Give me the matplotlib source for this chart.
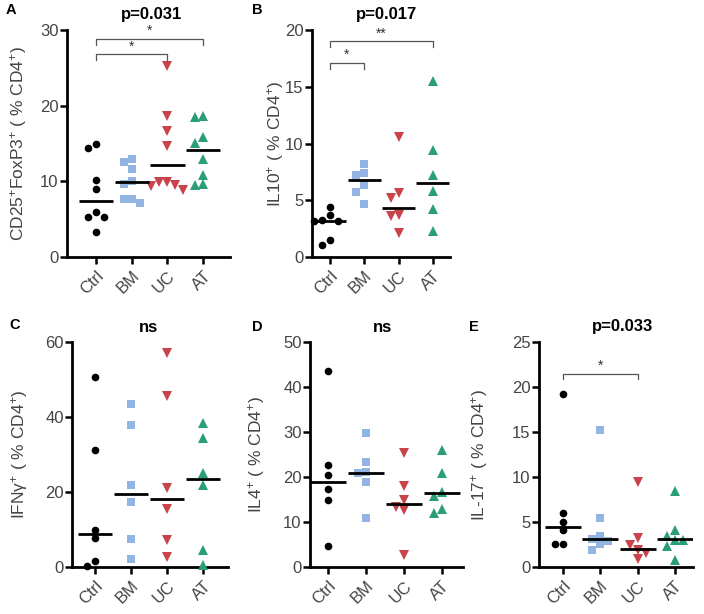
import matplotlib
matplotlib.use('Agg')
import matplotlib.pyplot as plt

plt.rcParams['font.family'] = ['Liberation Sans', 'DejaVu Sans']
plt.rcParams['mathtext.fontset'] = 'custom'
plt.rcParams['mathtext.rm'] = 'Liberation Sans'
plt.rcParams['mathtext.it'] = 'Liberation Sans:italic'

groups = ['Ctrl', 'BM', 'UC', 'AT']

# A: CD25+FoxP3+
a_ctrl = [14.9, 14.4, 10.2, 9.0, 5.9, 5.3, 5.3, 3.3]
a_bm = [13.0, 12.5, 11.6, 10.1, 9.6, 7.6, 7.6, 7.2]
a_uc = [25.3, 18.7, 16.6, 14.7, 9.9, 9.9, 9.5, 9.4, 8.9]
a_at = [18.7, 18.5, 15.9, 15.1, 13.0, 10.9, 9.7, 9.5]
a_med = [7.4, 9.9, 12.2, 14.1]

# B: IL10+
b_ctrl = [4.4, 3.7, 3.3, 3.2, 3.2, 1.5, 1.1]
b_bm = [8.2, 7.4, 7.2, 6.3, 5.7, 4.7]
b_uc = [10.6, 5.6, 5.2, 3.7, 3.6, 2.1]
b_at = [15.5, 9.4, 7.2, 5.8, 4.2, 2.3]
b_med = [3.2, 6.8, 4.3, 6.5]

# C: IFNg+
c_ctrl = [50.7, 31.3, 10.0, 7.8, 1.6, 0.4]
c_bm = [43.5, 37.9, 21.9, 17.4, 7.4, 2.1]
c_uc = [57.0, 45.5, 21.2, 15.4, 7.2, 2.6]
c_at = [38.3, 34.5, 25.0, 21.9, 4.5, 0.5]
c_med = [8.9, 19.6, 18.2, 23.6]

# D: IL4+
d_ctrl = [43.5, 22.7, 20.4, 17.3, 14.9, 4.7]
d_bm = [29.7, 23.4, 21.2, 20.8, 19.0, 10.8]
d_uc = [25.4, 18.0, 14.9, 13.4, 12.7, 2.7]
d_at = [26.0, 20.8, 16.7, 15.8, 13.0, 12.1]
d_med = [19.0, 21.0, 14.0, 16.4]

# E: IL-17+
e_ctrl = [19.2, 6.0, 5.0, 4.1, 2.6, 2.6]
e_bm = [15.2, 5.4, 3.5, 3.1, 2.9, 2.6, 1.9]
e_uc = [9.5, 3.2, 2.4, 1.9, 1.6, 0.9]
e_at = [8.4, 4.1, 3.5, 3.0, 3.0, 2.3, 0.8]
e_med = [4.5, 3.1, 2.0, 3.1]

colors = ['black', '#92b4e3', '#c9444a', '#2a9e78']
markers = ['o', 's', 'v', '^']
msizes = [5.5, 5.5, 6.5, 6.5]
GRAY = '#444444'

W, H = 704, 614
fig = plt.figure(figsize=(W / 100, H / 100), dpi=100)

panels = [
    # letter, data, medians, ylabel, title, ymax, ystep, box(l, r, t, b), xlim,
    # brackets, letter pos, ylabel x, title x
    ('A', [a_ctrl, a_bm, a_uc, a_at], a_med,
     r'CD25$^{+}$FoxP3$^{+}$ ( % CD4$^{+}$)', 'p=0.031', 30, 10,
     (67, 230, 30, 257), (-0.81, 3.75),
     [(0, 3, 28.8, '*'), (0, 2, 26.8, '*')], (11, 10), 29, 152),
    ('B', [b_ctrl, b_bm, b_uc, b_at], b_med,
     r'IL10$^{+}$ ( % CD4$^{+}$)', 'p=0.017', 20, 5,
     (312, 450, 30, 257), (-0.52, 3.5),
     [(0, 3, 19.0, '**'), (0, 1, 17.1, '*')], (257, 10), 286, 387),
    ('C', [c_ctrl, c_bm, c_uc, c_at], c_med,
     r'IFNγ$^{+}$ ( % CD4$^{+}$)', 'ns', 60, 20,
     (72, 228, 342, 567), (-0.64, 3.69), [], (15, 325), 30, 148),
    ('D', [d_ctrl, d_bm, d_uc, d_at], d_med,
     r'IL4$^{+}$ ( % CD4$^{+}$)', 'ns', 50, 10,
     (310, 463, 342, 567), (-0.47, 3.55), [], (257, 327), 267, 383),
    ('E', [e_ctrl, e_bm, e_uc, e_at], e_med,
     r'IL-17$^{+}$ ( % CD4$^{+}$)', 'p=0.033', 25, 5,
     (539, 693, 342, 567), (-0.64, 3.48),
     [(0, 2, 21.5, '*')], (474, 327), 490, 623),
]


def swarm(vals, ppx, ppy, d=8.0):
    # simple beeswarm: offsets in x units so markers don't overlap
    order = sorted(range(len(vals)), key=lambda k: -vals[k])
    placed = []
    offs = [0.0] * len(vals)
    cands = [0, -d, d, -2 * d, 2 * d, -3 * d, 3 * d]
    for k in order:
        y = vals[k] * ppy
        for c in cands:
            if all((c - px) ** 2 + (y - py) ** 2 >= (d * 0.95) ** 2 for px, py in placed):
                break
        placed.append((c, y))
        offs[k] = c / ppx
    return offs


for (letter, data, meds, ylabel, title, ymax, ystep, box, xlim,
     brackets, lpos, ylx, tx) in panels:
    l, r, t, b = box
    ax = fig.add_axes([l / W, 1 - b / H, (r - l) / W, (b - t) / H])
    ax.set_xlim(*xlim)
    ax.set_ylim(0, ymax)
    ppx = (r - l) / (xlim[1] - xlim[0])
    ppy = (b - t) / ymax
    for i, vals in enumerate(data):
        offs = swarm(vals, ppx, ppy)
        ax.plot([i + o for o in offs], vals, linestyle='none',
                marker=markers[i], color=colors[i], markersize=msizes[i],
                markeredgewidth=0, clip_on=False, zorder=3)
        ax.plot([i - 0.48, i + 0.48], [meds[i], meds[i]], color='black',
                lw=2, zorder=4, solid_capstyle='butt')
    for i, j, y, s in brackets:
        h = ymax * 0.025
        ax.plot([i, i, j, j], [y - h, y, y, y - h], color='#555555', lw=0.9,
                clip_on=False)
        ax.text((i + j) / 2, y + ymax * 0.004, s, ha='center', va='bottom',
                fontsize=10, color='#333333')
    ax.set_xticks(range(len(groups)))
    ax.set_xticklabels(groups, rotation=45, ha='right', rotation_mode='anchor',
                       fontsize=12, color=GRAY)
    ax.set_yticks(range(0, ymax + 1, ystep))
    ax.tick_params(axis='y', labelsize=12, labelcolor=GRAY, length=5, width=1.8,
                   pad=1)
    ax.tick_params(axis='x', length=5, width=1.8, pad=3)
    for s in ['top', 'right']:
        ax.spines[s].set_visible(False)
    for s in ['left', 'bottom']:
        ax.spines[s].set_linewidth(2)
    ax.set_ylabel(ylabel, fontsize=12.5, color=GRAY)
    ax.yaxis.set_label_coords((ylx - l) / (r - l), 0.5)
    fig.text(tx / W, 1 - (t - 15) / H, title, ha='center', va='center',
             fontsize=12, fontweight='bold')
    fig.text(lpos[0] / W, 1 - lpos[1] / H, letter, ha='center', va='center',
             fontsize=10.5, fontweight='bold')

fig.savefig('out.png', dpi=100)
